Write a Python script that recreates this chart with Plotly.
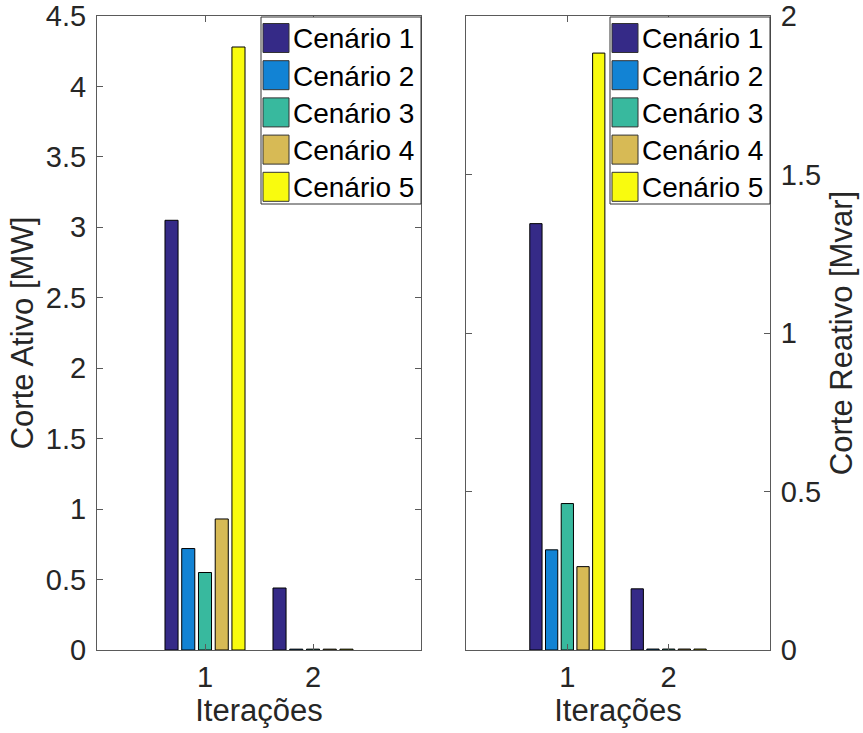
import plotly.graph_objects as go
from plotly.subplots import make_subplots

iteracoes = [1, 2]
cenarios = ["Cenário 1", "Cenário 2", "Cenário 3", "Cenário 4", "Cenário 5"]
cores = ["#352a87", "#1283d4", "#38b99e", "#d7ba55", "#f9fb0e"]

# Corte ativo [MW] por cenário (iteração 1, iteração 2)
ativo_c1 = [3.05, 0.44]
ativo_c2 = [0.72, 0.006]
ativo_c3 = [0.55, 0.006]
ativo_c4 = [0.93, 0.006]
ativo_c5 = [4.28, 0.006]

# Corte reativo [Mvar]
reativo_c1 = [1.345, 0.193]
reativo_c2 = [0.316, 0.003]
reativo_c3 = [0.462, 0.003]
reativo_c4 = [0.263, 0.003]
reativo_c5 = [1.883, 0.003]

ativo = [ativo_c1, ativo_c2, ativo_c3, ativo_c4, ativo_c5]
reativo = [reativo_c1, reativo_c2, reativo_c3, reativo_c4, reativo_c5]

W, H = 863, 733
FONT = "Liberation Sans, Arial, sans-serif"
TXT = "#262626"
AX = "#5a5a5a"

# axes boxes in pixels (left, right, top, bottom)
BOX1 = (97, 421, 16, 650)
BOX2 = (466, 770, 16, 650)

def px2x(p):
    return p / W

def px2y(p):
    return 1 - p / H

fig = make_subplots(rows=1, cols=2)

for nome, cor, ya, yr in zip(cenarios, cores, ativo, reativo):
    fig.add_trace(go.Bar(x=iteracoes, y=ya, name=nome, showlegend=False,
                         marker=dict(color=cor, line=dict(color="black", width=1))), row=1, col=1)
    fig.add_trace(go.Bar(x=iteracoes, y=yr, name=nome, showlegend=False,
                         marker=dict(color=cor, line=dict(color="black", width=1))), row=1, col=2)

axcommon = dict(showgrid=False, zeroline=False, showline=True, linecolor=AX, linewidth=1,
                mirror="ticks", ticks="inside", ticklen=6, tickcolor=AX, automargin=False,
                tickfont=dict(family=FONT, size=29, color=TXT))

fig.update_xaxes(**axcommon, range=[0, 3], tickvals=iteracoes, ticklabelstandoff=1,
                 title=dict(text="Iterações", font=dict(family=FONT, size=31, color=TXT), standoff=0))
fig.update_xaxes(domain=[px2x(BOX1[0]), px2x(BOX1[1])], row=1, col=1)
fig.update_xaxes(domain=[px2x(BOX2[0]), px2x(BOX2[1])], row=1, col=2)

ydom = [px2y(BOX1[3]), px2y(BOX1[2])]
fig.update_yaxes(**axcommon)
fig.update_yaxes(domain=ydom, range=[0, 4.5], tickvals=[0, 0.5, 1, 1.5, 2, 2.5, 3, 3.5, 4, 4.5],
                 ticktext=["0", "0.5", "1", "1.5", "2", "2.5", "3", "3.5", "4", "4.5"], ticklabelstandoff=4,
                 title=dict(text="Corte Ativo [MW]", font=dict(family=FONT, size=31, color=TXT), standoff=3),
                 row=1, col=1)
fig.update_yaxes(domain=ydom, range=[0, 2], tickvals=[0, 0.5, 1, 1.5, 2],
                 ticktext=["0", "0.5", "1", "1.5", "2"], side="right", ticklabelstandoff=4,
                 title=dict(text="Corte Reativo [Mvar]", font=dict(family=FONT, size=31, color=TXT), standoff=10),
                 row=1, col=2)

# legends (MATLAB-style boxes with large swatches), one per axes
shapes = []
annotations = []
LEG_W, ROW_H, SW_W, SW_H = 160, 37.2, 26, 29
for box in (BOX1, BOX2):
    lx1 = box[1]
    lx0 = lx1 - LEG_W
    ly0 = box[2] + 1
    ly1 = ly0 + ROW_H * len(cenarios) + 1
    shapes.append(dict(type="rect", xref="paper", yref="paper", x0=px2x(lx0), x1=px2x(lx1),
                       y0=px2y(ly1), y1=px2y(ly0), fillcolor="white", line=dict(color="#333333", width=1)))
    for i, (nome, cor) in enumerate(zip(cenarios, cores)):
        cy = ly0 + 21 + i * ROW_H
        shapes.append(dict(type="rect", xref="paper", yref="paper",
                           x0=px2x(lx0 + 2), x1=px2x(lx0 + 2 + SW_W),
                           y0=px2y(cy + SW_H / 2), y1=px2y(cy - SW_H / 2),
                           fillcolor=cor, line=dict(color="#333333", width=1)))
        annotations.append(dict(xref="paper", yref="paper", x=px2x(lx0 + SW_W + 4), y=px2y(cy + 1),
                                xanchor="left", yanchor="middle", text=nome, showarrow=False,
                                font=dict(family=FONT, size=28, color="black")))

fig.update_layout(
    width=W, height=H,
    margin=dict(l=0, r=0, t=0, b=0),
    paper_bgcolor="white", plot_bgcolor="white",
    barmode="group", bargap=0.225, bargroupgap=0.22,
    shapes=shapes, annotations=annotations,
)

fig.write_html("out.html")
